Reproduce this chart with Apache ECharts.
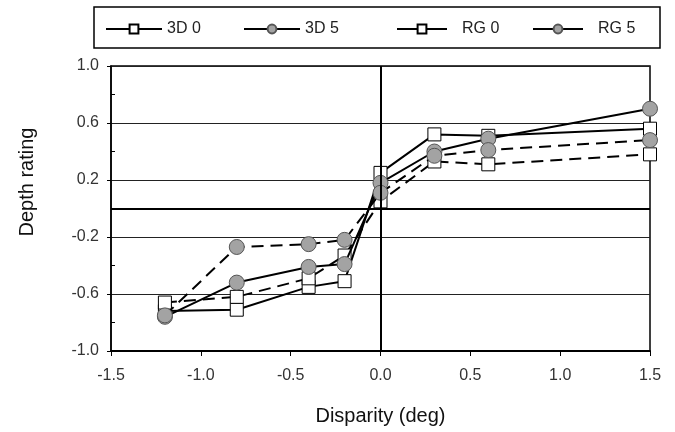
<!DOCTYPE html>
<html>
<head>
<meta charset="utf-8">
<script src="https://cdn.jsdelivr.net/npm/echarts@6/dist/echarts.min.js"></script>
<style>
  body { margin: 0; background: #fff; }
  #myChart { width: 675px; height: 432px; }
</style>
</head>
<body>
<div id="myChart"></div>
<script>
  // disparity (deg) on x, mean depth rating per condition
  var disparity = [-1.2, -0.8, -0.4, -0.2, 0, 0.3, 0.6, 1.5];
  var d3_0 = [-0.72, -0.71, -0.55, -0.51, 0.25, 0.52, 0.51, 0.56];
  var d3_5 = [-0.76, -0.52, -0.41, -0.39, 0.18, 0.40, 0.49, 0.70];
  var rg_0 = [-0.66, -0.62, -0.49, -0.33, 0.05, 0.33, 0.31, 0.38];
  var rg_5 = [-0.75, -0.27, -0.25, -0.22, 0.11, 0.37, 0.41, 0.48];
  var names = ['3D 0', '3D 5', 'RG 0', 'RG 5'];

  function pairs(ys) {
    return disparity.map(function (x, i) { return [x, ys[i]]; });
  }

  var font = 'Liberation Sans, Arial, sans-serif';
  var squareStyle = { color: '#fff', borderColor: '#000', borderWidth: 1 };
  var circleStyle = { color: '#a3a3a3', borderColor: '#555', borderWidth: 1 };

  function makeSeries(name, ys, dashed, circle) {
    return {
      name: name,
      type: 'line',
      data: pairs(ys),
      symbol: circle ? 'circle' : 'rect',
      symbolSize: circle ? 15 : 13,
      itemStyle: circle ? circleStyle : squareStyle,
      lineStyle: { color: '#000', width: 2, type: dashed ? [12, 7] : 'solid' },
      z: circle ? 3 : 2,
      animation: false
    };
  }

  var series = [
    makeSeries(names[0], d3_0, false, false),
    makeSeries(names[1], d3_5, false, true),
    makeSeries(names[2], rg_0, true, false),
    makeSeries(names[3], rg_5, true, true)
  ];
  // zero lines through the plot
  series[0].markLine = {
    silent: true,
    symbol: 'none',
    label: { show: false },
    lineStyle: { color: '#000', width: 2, type: 'solid' },
    data: [{ yAxis: 0 }, { xAxis: 0 }]
  };

  var legendLeft = [100, 238, 391, 527];
  var legendW = [56, 56, 50, 50];
  var legendPad = [0, 0, 10, 10];
  var legends = names.map(function (n, i) {
    return {
      data: [n],
      left: legendLeft[i],
      top: 16,
      itemWidth: legendW[i],
      itemHeight: 11,
      itemGap: 0,
      lineStyle: { type: 'solid', width: 2 },
      textStyle: { fontFamily: font, fontSize: 16, color: '#222', padding: [0, 0, 0, legendPad[i]] }
    };
  });

  var myChart = echarts.init(document.getElementById('myChart'));
  myChart.setOption({
    animation: false,
    legend: legends,
    graphic: [{
      type: 'rect',
      shape: { x: 94, y: 7, width: 566, height: 41 },
      style: { fill: 'none', stroke: '#000', lineWidth: 1.5 }
    }, {
      type: 'text',
      x: 27, y: 182,
      rotation: Math.PI / 2,
      style: {
        text: 'Depth rating', align: 'center', verticalAlign: 'middle',
        font: '20px ' + font, fill: '#111'
      }
    }],
    grid: {
      left: 111, right: 25, top: 66, bottom: 81,
      show: true, borderColor: '#000', borderWidth: 1.5
    },
    xAxis: {
      type: 'value',
      min: -1.5, max: 1.5, interval: 0.5,
      name: 'Disparity (deg)',
      nameLocation: 'middle',
      nameGap: 55,
      nameTextStyle: { fontFamily: font, fontSize: 20, color: '#111' },
      axisLine: { onZero: false, lineStyle: { color: '#000', width: 2 } },
      axisTick: { show: true, length: 5, lineStyle: { color: '#000' } },
      axisLabel: {
        fontFamily: font, fontSize: 16, color: '#333', margin: 17,
        formatter: function (v) { return v.toFixed(1); }
      },
      splitLine: { show: false }
    },
    yAxis: {
      type: 'value',
      min: -1, max: 1, interval: 0.4,
      axisLine: { onZero: false, lineStyle: { color: '#000', width: 1.5 } },
      axisTick: { show: true, length: 4, lineStyle: { color: '#000' } },
      minorTick: { show: true, splitNumber: 2, length: -4, lineStyle: { color: '#000' } },
      axisLabel: {
        fontFamily: font, fontSize: 16, color: '#333', margin: 12,
        formatter: function (v) { return v.toFixed(1); }
      },
      splitLine: { show: true, lineStyle: { color: '#222', width: 1 } }
    },
    series: series
  });
</script>
</body>
</html>
